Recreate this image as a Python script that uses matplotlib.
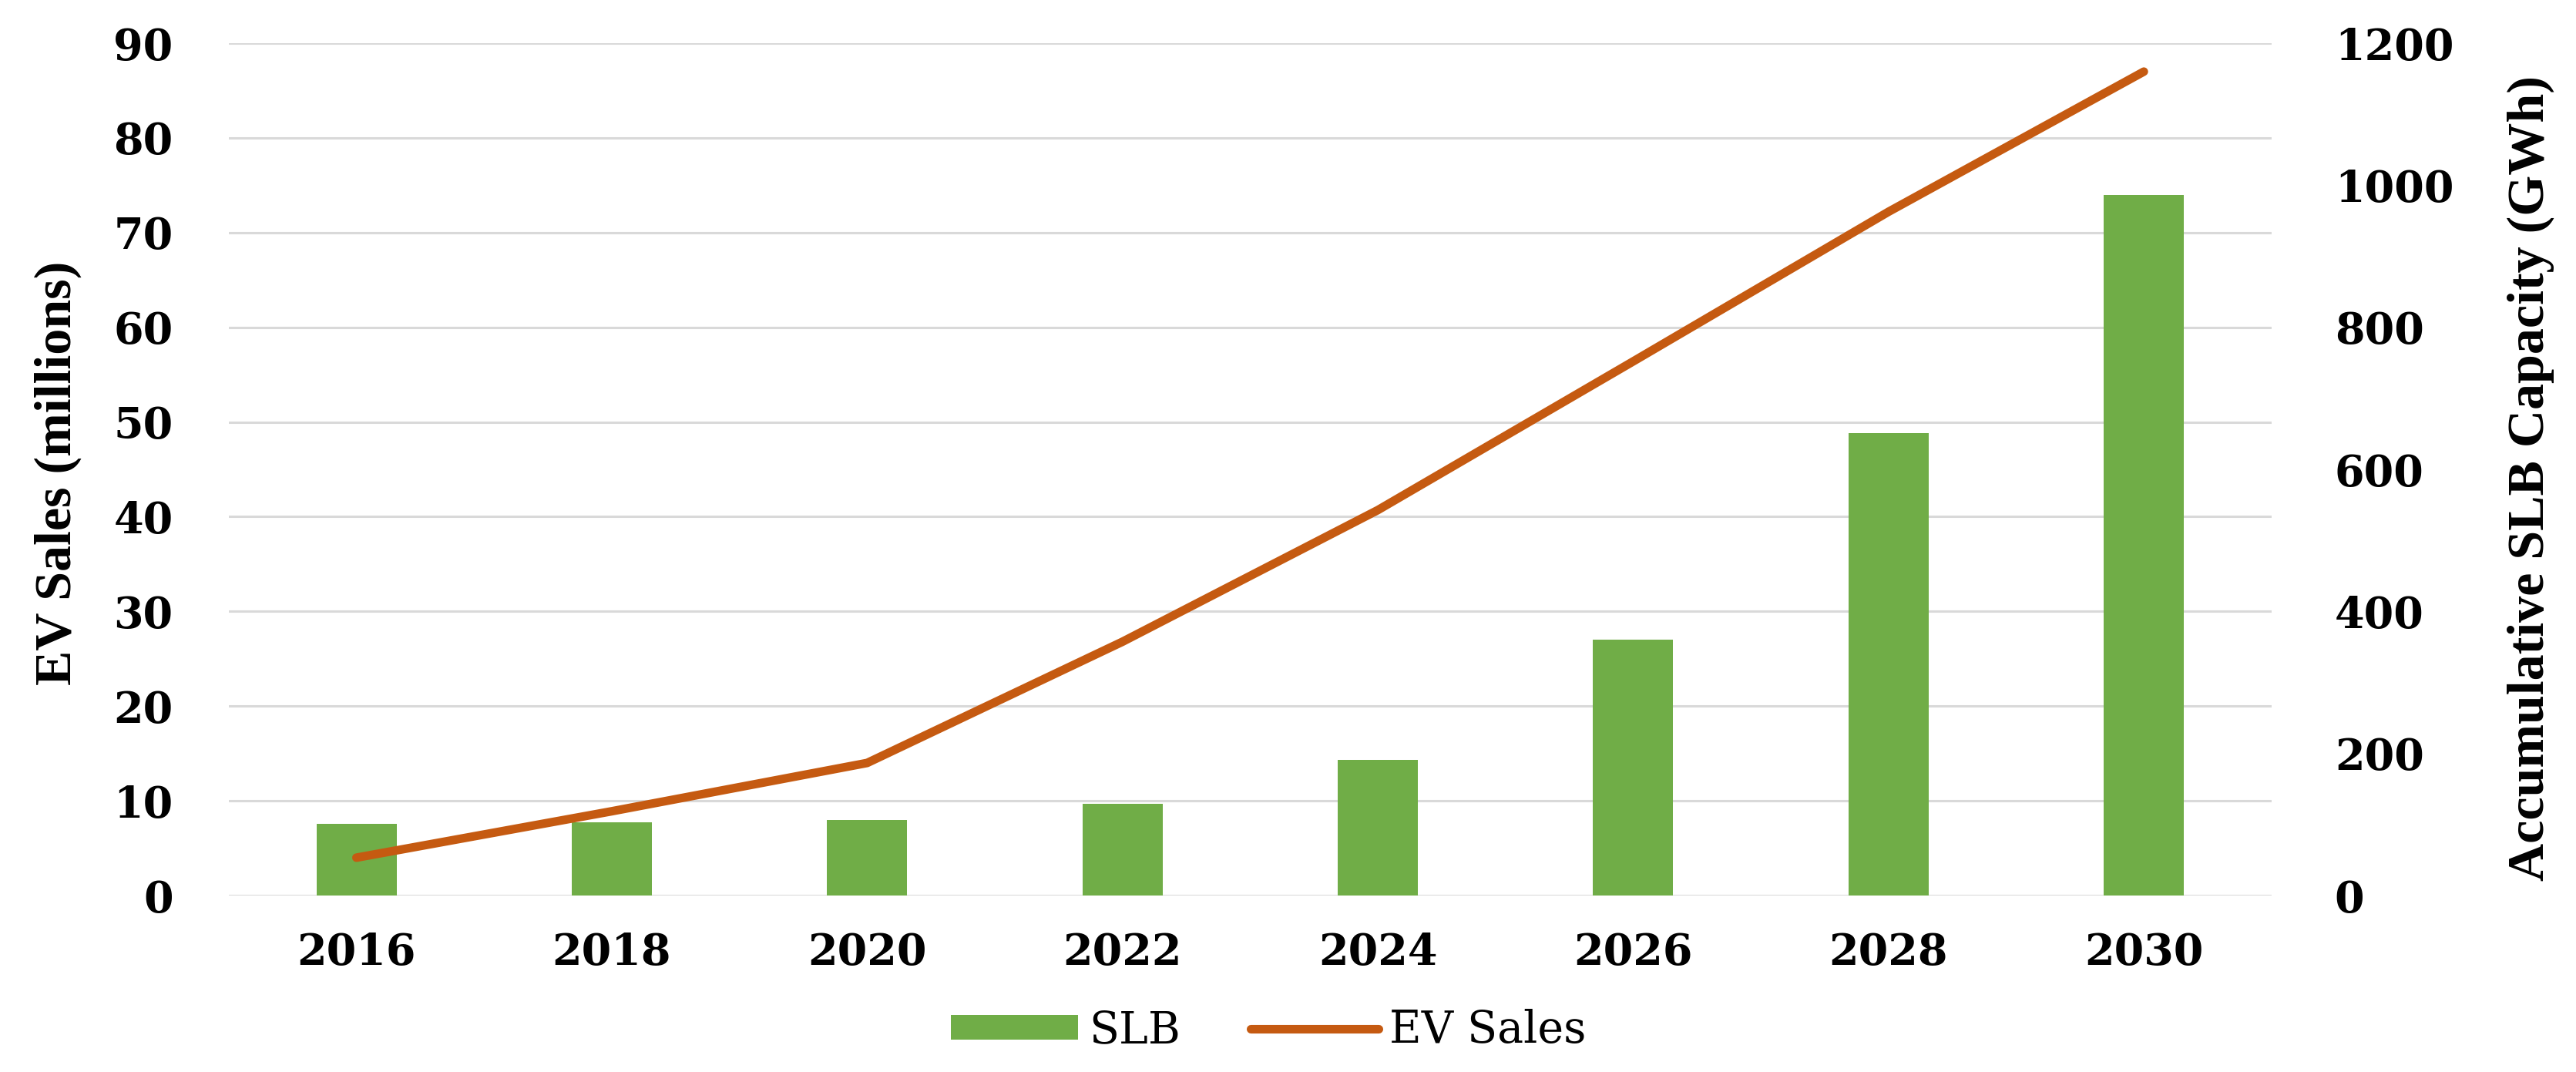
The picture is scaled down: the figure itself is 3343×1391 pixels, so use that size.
import numpy as np
import matplotlib.pyplot as plt

years = ['2016', '2018', '2020', '2022', '2024', '2026', '2028', '2030']
slb_gwh = [101, 103, 106, 129, 191, 360, 651, 986]
ev_sales = [4.0, 8.9, 14.0, 26.8, 40.7, 56.4, 72.2, 87.0]

green = '#70AD47'
orange = '#C55A11'
tick_font = 'DejaVu Serif'
label_font = 'Liberation Serif'

x = np.arange(len(years))

fig = plt.figure(figsize=(33.43, 13.91), dpi=100)
ax = fig.add_axes([0.0888, 0.1646, 0.7930, 0.7951])
ax2 = ax.twinx()

# bars on the right axis, gridlines drawn there too (under the bars)
ax2.bar(x, slb_gwh, width=0.314, color=green, zorder=2, label='SLB')
ax2.set_ylim(0, 1200)
ax2.yaxis.remove_overlapping_locs = False
ax2.set_yticks(np.arange(0, 1201, 200))
ax2.set_yticks(np.linspace(0, 1200, 10), minor=True)
ax2.grid(True, which='minor', axis='y', color='#d9d9d9', linewidth=2.2, zorder=0)
ax2.set_axisbelow(True)

# line on the left axis, kept on top
ax.set_zorder(ax2.get_zorder() + 1)
ax.patch.set_visible(False)
ax.plot(x, ev_sales, color=orange, linewidth=8, solid_capstyle='round',
        solid_joinstyle='round', label='EV Sales')
ax.set_ylim(0, 90)
ax.set_yticks(np.arange(0, 91, 10))
ax.set_xlim(-0.5, 7.5)
ax.set_xticks(x)
ax.set_xticklabels(years)

for a in (ax, ax2):
    for s in a.spines.values():
        s.set_visible(False)
    a.tick_params(length=0, which='both')

ax.tick_params(axis='x', pad=34)
ax.tick_params(axis='y', pad=52)
ax2.tick_params(axis='y', pad=59)
for lab in ax.get_xticklabels() + ax.get_yticklabels() + ax2.get_yticklabels():
    lab.set_fontfamily(tick_font)
    lab.set_fontweight('bold')
    lab.set_fontsize(40)

ax.set_ylabel('EV Sales (millions)', fontfamily=label_font, fontweight='bold',
              fontsize=49, va='center')
ax.yaxis.set_label_coords(-0.0837, 0.496)
ax2.set_ylabel('Accumulative SLB Capacity (GWh)', fontfamily=label_font,
               fontweight='bold', fontsize=49, va='center', rotation=90)
ax2.yaxis.set_label_coords(1.127, 0.49)

h2, l2 = ax2.get_legend_handles_labels()
h1, l1 = ax.get_legend_handles_labels()
fig.legend(h2 + h1, l2 + l1, loc='center', bbox_to_anchor=(0.4924, 0.0388),
           ncol=2, frameon=False, prop={'family': tick_font, 'size': 41},
           handlelength=2.9, handleheight=0.5, handletextpad=0.25,
           columnspacing=1.6)

fig.savefig('out.png', dpi=100, facecolor='white')
